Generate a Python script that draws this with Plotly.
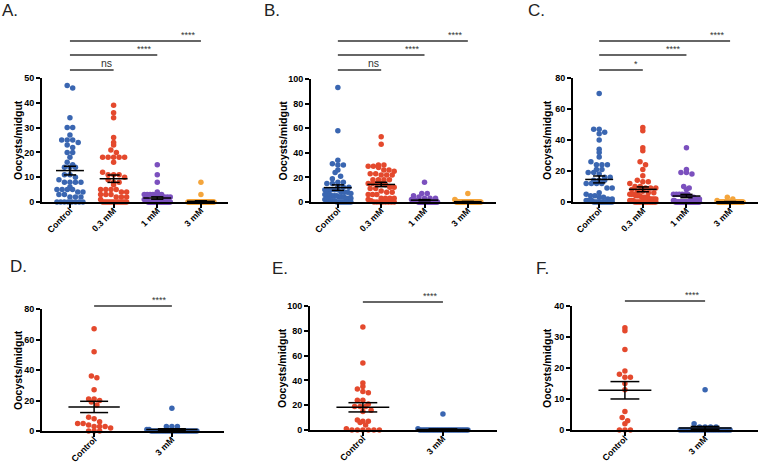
import numpy as np
import plotly.graph_objects as go

W, H = 759, 464

cats_dose = ['Control', '0.3 mM', '1 mM', '3 mM']
cats_pair = ['Control', '3 mM']

# A
a_control = [47, 46, 34, 30, 30, 27, 25, 25, 25, 24, 23, 22, 20, 20, 18, 16, 15, 14, 14, 14, 11, 11, 10, 9,
             8, 8, 8, 8, 6, 5, 5, 5, 5, 4, 4, 3, 3, 2, 2, 2, 0, 0, 0, 0, 0, 0, 0, 0]
a_03mm = [39, 36, 34, 26, 24, 23, 21, 20, 18, 18, 18, 18, 18, 16, 12, 11, 11, 11, 10, 9, 8, 8, 7, 5, 5, 5, 5,
          4, 4, 3, 3, 3, 2, 2, 2, 1, 0, 0, 0, 0, 0, 0, 0, 0, 0, 0, 0, 0, 0]
a_1mm = [15, 11, 8, 4, 3, 3, 3, 3, 3, 3, 3, 2, 2, 2, 1, 1, 1, 1,
         0, 0, 0, 0, 0, 0, 0, 0, 0, 0, 0, 0, 0, 0, 0, 0, 0, 0, 0, 0, 0, 0, 0, 0, 0]
a_3mm = [8, 3, 0, 0, 0, 0, 0, 0, 0, 0, 0, 0, 0, 0, 0, 0, 0, 0, 0, 0, 0, 0, 0, 0, 0, 0, 0, 0, 0, 0, 0, 0,
         0, 0, 0, 0, 0, 0, 0, 0]

# B
b_control = [93, 58, 34, 31, 30, 30, 26, 24, 21, 19, 16, 16, 15, 15, 12, 12, 12, 10, 10, 10, 10, 10, 8, 8, 8,
             7, 6, 6, 6, 5, 5, 5, 4, 4, 4, 3, 3, 3, 2, 2, 2, 1, 1, 1, 0, 0, 0, 0, 0, 0, 0, 0]
b_03mm = [53, 47, 30, 30, 29, 29, 28, 26, 26, 25, 23, 23, 22, 22, 22, 18, 18, 18, 18, 15, 15, 15, 15, 14, 12,
          12, 11, 11, 9, 8, 8, 6, 6, 6, 3, 3, 3, 3, 2, 1, 0, 0, 0, 0, 0, 0, 0, 0]
b_1mm = [16, 7, 7, 5, 4, 3, 3, 3, 2, 2, 2, 2, 1, 1, 1, 1,
         0, 0, 0, 0, 0, 0, 0, 0, 0, 0, 0, 0, 0, 0, 0, 0, 0, 0, 0, 0, 0, 0, 0, 0]
b_3mm = [7, 2, 1, 0, 0, 0, 0, 0, 0, 0, 0, 0, 0, 0, 0, 0, 0, 0, 0, 0, 0, 0, 0, 0, 0, 0, 0, 0, 0, 0, 0, 0,
         0, 0, 0, 0, 0, 0]

# C
c_control = [70, 47, 47, 45, 44, 40, 34, 32, 29, 26, 24, 24, 24, 21, 21, 19, 19, 18, 16, 16, 14, 14, 14, 12,
             12, 12, 12, 9, 9, 6, 5, 4, 4, 3, 3, 2, 2, 1, 1, 1, 1, 0, 0, 0, 0, 0, 0, 0, 0, 0, 0, 0]
c_03mm = [48, 46, 35, 33, 26, 24, 21, 17, 14, 13, 13, 12, 10, 10, 9, 9, 9, 8, 7, 7, 6, 6, 5, 5, 5, 4, 4, 4,
          3, 3, 3, 3, 2, 2, 2, 2, 1, 1, 1, 0, 0, 0, 0, 0, 0, 0, 0, 0, 0, 0, 0, 0, 0]
c_1mm = [35, 21, 19, 19, 18, 10, 9, 8, 5, 5, 5, 5, 5, 5, 3, 3, 2, 2, 1, 1,
         0, 0, 0, 0, 0, 0, 0, 0, 0, 0, 0, 0, 0, 0, 0, 0, 0, 0, 0, 0, 0, 0, 0, 0, 0, 0, 0]
c_3mm = [3, 2, 1, 0, 0, 0, 0, 0, 0, 0, 0, 0, 0, 0, 0, 0, 0, 0, 0, 0, 0, 0, 0, 0, 0, 0, 0, 0, 0, 0, 0, 0, 0]

# D, E, F
d_control = [67, 52, 36, 35, 27, 21, 21, 20, 19, 17, 9, 8, 6, 5, 5, 4, 3, 3, 3, 2, 0, 0, 0]
d_3mm = [15, 3, 3, 3, 1, 1, 0, 0, 0, 0, 0, 0, 0, 0, 0, 0, 0, 0, 0, 0, 0, 0, 0, 0, 0, 0, 0, 0]
e_control = [83, 54, 38, 35, 33, 31, 30, 24, 24, 21, 19, 19, 19, 16, 15, 8, 7, 7, 6, 4, 1, 0, 0, 0, 0, 0, 0]
e_3mm = [13, 1, 0, 0, 0, 0, 0, 0, 0, 0, 0, 0, 0, 0, 0, 0, 0, 0, 0, 0, 0, 0, 0, 0, 0, 0, 0, 0, 0, 0]
f_control = [33, 32, 26, 19, 18, 17, 17, 15, 13, 6, 4, 3, 2, 0, 0, 0]
f_3mm = [13, 2, 1, 1, 1, 1, 0, 0, 0, 0, 0, 0, 0, 0, 0, 0, 0, 0, 0, 0, 0, 0, 0, 0, 0, 0, 0, 0]

BLUE = '#3A66B1'
RED = '#E4492D'
PURPLE = '#7B50BE'
ORANGE = '#F4A53C'
FONT = 'Liberation Sans'

# px = (left, right, top, bottom) of each plot area in the 759x464 picture
panels = [
    dict(letter='A.', lpos=(0, 10), groups=[a_control, a_03mm, a_1mm, a_3mm], colors=[BLUE, RED, PURPLE, ORANGE],
         cats=cats_dose, px=(42, 228, 78, 202), xr=(-0.64, 3.62), ymax=50, dtick=10, ytx=18,
         sig=[(1, 'ns', 1.065), (2, '****', 1.185), (3, '****', 1.298)], half=13, mw=0.32, sw=0.14),
    dict(letter='B.', lpos=(262, 10), groups=[b_control, b_03mm, b_1mm, b_3mm], colors=[BLUE, RED, PURPLE, ORANGE],
         cats=cats_dose, px=(311, 496, 79, 202), xr=(-0.62, 3.65), ymax=100, dtick=20, ytx=282,
         sig=[(1, 'ns', 1.073), (2, '****', 1.195), (3, '****', 1.309)], half=13, mw=0.32, sw=0.14),
    dict(letter='C.', lpos=(526, 10), groups=[c_control, c_03mm, c_1mm, c_3mm], colors=[BLUE, RED, PURPLE, ORANGE],
         cats=cats_dose, px=(573, 758, 78, 202), xr=(-0.6, 3.64), ymax=80, dtick=20, ytx=547,
         sig=[(1, '*', 1.065), (2, '****', 1.185), (3, '****', 1.298)], half=13, mw=0.32, sw=0.14),
    dict(letter='D.', lpos=(8, 266), groups=[d_control, d_3mm], colors=[RED, BLUE],
         cats=cats_pair, px=(42, 224, 309, 431), xr=(-0.67, 1.67), ymax=80, dtick=20, ytx=18,
         sig=[(1, '****', 1.025)], half=25, mw=0.33, sw=0.18),
    dict(letter='E.', lpos=(270, 268), groups=[e_control, e_3mm], colors=[RED, BLUE],
         cats=cats_pair, px=(310, 497, 306, 430), xr=(-0.66, 1.675), ymax=100, dtick=20, ytx=282,
         sig=[(1, '****', 1.032)], half=25, mw=0.33, sw=0.18),
    dict(letter='F.', lpos=(534, 268), groups=[f_control, f_3mm], colors=[RED, BLUE],
         cats=cats_pair, px=(572, 758, 306, 430), xr=(-0.66, 1.66), ymax=40, dtick=10, ytx=547,
         sig=[(1, '****', 1.04)], half=25, mw=0.33, sw=0.18),
]

DOT = 5.5


def swarm(vals, py, px, half):
    """Prism-like rows: values falling in the same dot-sized band sit side by side."""
    rows = {}
    for i, v in enumerate(vals):
        rows.setdefault(int(round(v * py / DOT)), []).append(i)
    off = np.zeros(len(vals))
    for idx in rows.values():
        n = len(idx)
        step = DOT if n < 2 else min(DOT, 2 * half / (n - 1))
        for k, i in enumerate(idx):
            off[i] = (k - (n - 1) / 2) * step / px
    return off


fig = go.Figure()
shapes, annotations = [], []
layout = {}

for p_i, p in enumerate(panels):
    n = '' if p_i == 0 else str(p_i + 1)
    xl, xrp, yt, yb = p['px']
    px_per_x = (xrp - xl) / (p['xr'][1] - p['xr'][0])
    px_per_y = (yb - yt) / p['ymax']

    for c, (vals, col) in enumerate(zip(p['groups'], p['colors'])):
        vals = np.array(vals, dtype=float)
        off = swarm(vals, px_per_y, px_per_x, p['half'])
        fig.add_trace(go.Scatter(
            x=c + off, y=vals, mode='markers', xaxis='x' + n, yaxis='y' + n,
            marker=dict(size=DOT, color=col, line=dict(width=0)),
            cliponaxis=False, showlegend=False, hoverinfo='y'))
        m = vals.mean()
        s = vals.std(ddof=1) / np.sqrt(len(vals))
        mw, sw = p['mw'], p['sw']
        fig.add_trace(go.Scatter(
            x=[c - mw, c + mw, None, c - sw, c + sw, None, c - sw, c + sw, None, c, c],
            y=[m, m, None, m + s, m + s, None, m - s, m - s, None, m - s, m + s],
            mode='lines', xaxis='x' + n, yaxis='y' + n, cliponaxis=False,
            line=dict(color='black', width=1.5), showlegend=False, hoverinfo='skip'))

    layout['xaxis' + n] = dict(
        domain=[xl / W, xrp / W], range=list(p['xr']), anchor='y' + n, automargin=False,
        tickvals=list(range(len(p['cats']))), ticktext=p['cats'], tickangle=-45,
        ticks='outside', ticklen=4, tickwidth=1.5, tickcolor='black', ticklabelstandoff=-6,
        showline=True, linewidth=2, linecolor='black', showgrid=False, zeroline=False,
        tickfont=dict(family=FONT, size=8.8, color='black', weight='bold'))
    layout['yaxis' + n] = dict(
        domain=[1 - yb / H, 1 - yt / H], range=[0, p['ymax']], dtick=p['dtick'], anchor='x' + n,
        automargin=False,
        ticks='outside', ticklen=4, tickwidth=2, tickcolor='black',
        showline=True, linewidth=2, linecolor='black', showgrid=False, zeroline=False,
        tickfont=dict(family=FONT, size=9, color='black', weight='bold'))

    xref = 'x' + n
    yref = 'y' + n + ' domain'
    for end, txt, yd in p['sig']:
        shapes.append(dict(type='line', xref=xref, yref=yref, x0=0, x1=end, y0=yd, y1=yd,
                           line=dict(color='#333333', width=1.5)))
        stars = txt != 'ns'
        annotations.append(dict(
            x=end, y=yd, xref=xref, yref=yref, text=txt, showarrow=False,
            xanchor='right', yanchor='bottom', xshift=-3 if stars else 0, yshift=-1 if stars else -1,
            font=dict(family=FONT, size=9 if stars else 10.5, color='#333333')))

    annotations.append(dict(
        x=p['ytx'] / W, y=1 - (yt + yb) / 2 / H, xref='paper', yref='paper', text='Oocysts/midgut',
        textangle=-90, showarrow=False, xanchor='center', yanchor='middle',
        font=dict(family=FONT, size=10.5, color='black', weight='bold')))
    annotations.append(dict(
        x=p['lpos'][0] / W, y=1 - p['lpos'][1] / H, xref='paper', yref='paper', text=p['letter'],
        showarrow=False, xanchor='left', yanchor='middle',
        font=dict(family=FONT, size=17, color='#222222')))

fig.update_layout(**layout)
fig.update_layout(
    width=W, height=H, margin=dict(l=0, r=0, t=0, b=0),
    paper_bgcolor='white', plot_bgcolor='white',
    shapes=shapes, annotations=annotations, showlegend=False)

# the page's default body margin would push the figure 8px down/right
fig.write_html("out.html", config={'displayModeBar': False},
               post_script="document.body.style.margin='0';document.body.style.overflow='hidden';")
